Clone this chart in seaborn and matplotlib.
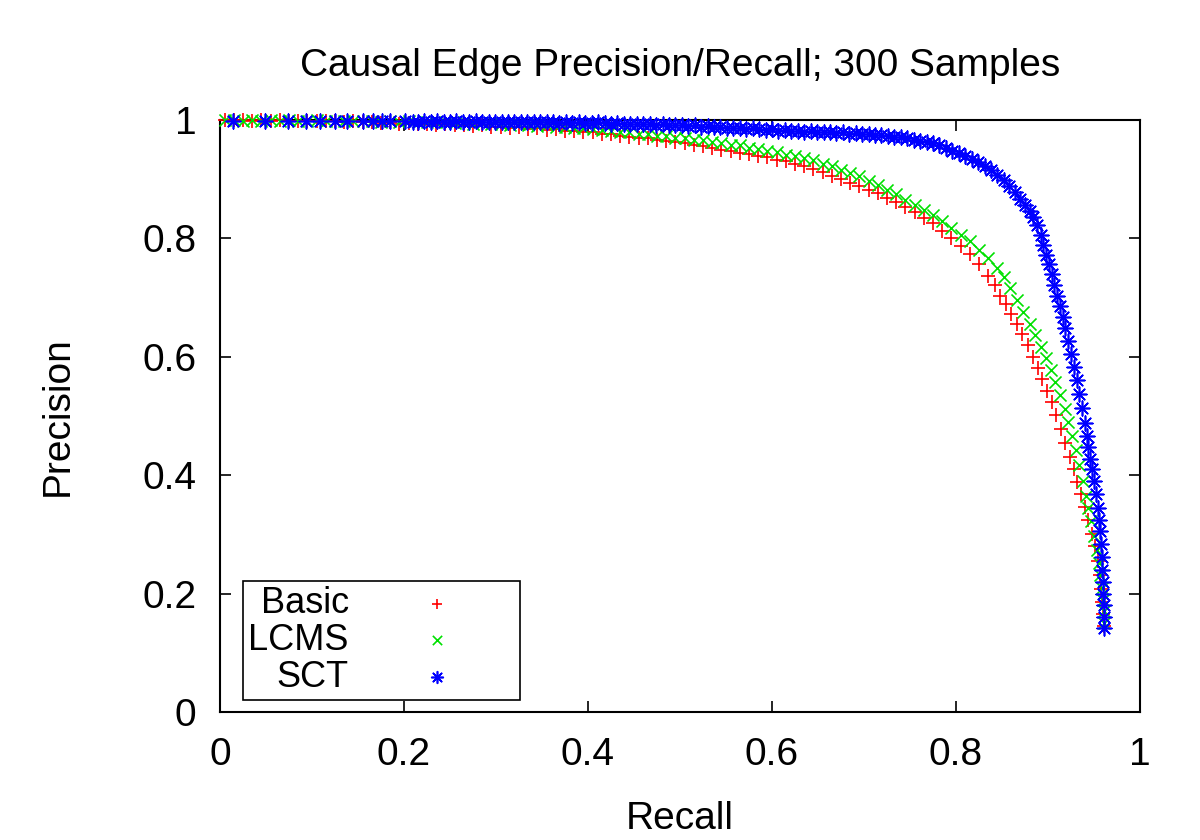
import matplotlib
matplotlib.use("Agg")
import matplotlib.pyplot as plt
import seaborn as sns
import pandas as pd

# ---------------- data ----------------
title = "Causal Edge Precision/Recall; 300 Samples"
x_label = "Recall"
y_label = "Precision"
series_names = ["Basic", "LCMS", "SCT"]
x_ticks = [0, 0.2, 0.4, 0.6, 0.8, 1]
y_ticks = [0, 0.2, 0.4, 0.6, 0.8, 1]

basic_recall = [0.005, 0.015, 0.025, 0.035, 0.045, 0.055, 0.065, 0.075, 0.085, 0.095,
                0.105, 0.115, 0.125, 0.135, 0.145, 0.155, 0.165, 0.175, 0.185, 0.195,
                0.205, 0.215, 0.225, 0.235, 0.245, 0.255, 0.265, 0.275, 0.285, 0.295,
                0.305, 0.315, 0.325, 0.335, 0.345, 0.355, 0.365, 0.375, 0.385, 0.395,
                0.405, 0.415, 0.425, 0.435, 0.445, 0.455, 0.465, 0.475, 0.485, 0.495,
                0.505, 0.515, 0.525, 0.535, 0.545, 0.555, 0.565, 0.575, 0.585, 0.595,
                0.605, 0.615, 0.625, 0.635, 0.645, 0.655, 0.665, 0.675, 0.685, 0.695,
                0.705, 0.715, 0.725, 0.735, 0.745, 0.755, 0.765, 0.775, 0.785, 0.795,
                0.805, 0.815, 0.825, 0.835, 0.842, 0.848, 0.854, 0.860, 0.866, 0.872,
                0.878, 0.884, 0.889, 0.894, 0.899, 0.904, 0.909, 0.914, 0.919, 0.924,
                0.928, 0.932, 0.936, 0.940, 0.944, 0.948, 0.951, 0.954, 0.956, 0.958,
                0.959, 0.960, 0.961]
basic_precision = [1.000, 1.000, 1.000, 0.999, 1.000, 0.999, 1.000, 0.999, 0.999, 0.998,
                   0.999, 0.998, 0.999, 0.997, 0.998, 0.996, 0.997, 0.995, 0.996, 0.994,
                   0.995, 0.993, 0.994, 0.992, 0.993, 0.991, 0.992, 0.990, 0.991, 0.989,
                   0.989, 0.987, 0.988, 0.985, 0.986, 0.983, 0.984, 0.981, 0.982, 0.979,
                   0.979, 0.976, 0.976, 0.973, 0.972, 0.970, 0.969, 0.966, 0.965, 0.962,
                   0.961, 0.957, 0.956, 0.952, 0.950, 0.948, 0.945, 0.943, 0.939, 0.937,
                   0.932, 0.931, 0.926, 0.922, 0.917, 0.912, 0.905, 0.900, 0.893, 0.889,
                   0.881, 0.876, 0.868, 0.862, 0.853, 0.845, 0.835, 0.826, 0.813, 0.800,
                   0.787, 0.773, 0.756, 0.737, 0.722, 0.703, 0.690, 0.673, 0.656, 0.638,
                   0.620, 0.600, 0.581, 0.562, 0.543, 0.523, 0.502, 0.478, 0.455, 0.431,
                   0.410, 0.388, 0.368, 0.346, 0.324, 0.300, 0.280, 0.255, 0.232, 0.208,
                   0.186, 0.165, 0.145]

lcms_recall = [0.005, 0.015, 0.025, 0.035, 0.045, 0.055, 0.065, 0.075, 0.085, 0.095,
               0.105, 0.115, 0.125, 0.135, 0.145, 0.155, 0.165, 0.175, 0.185, 0.195,
               0.205, 0.215, 0.225, 0.235, 0.245, 0.255, 0.265, 0.275, 0.285, 0.295,
               0.305, 0.315, 0.325, 0.335, 0.345, 0.355, 0.365, 0.375, 0.385, 0.395,
               0.405, 0.415, 0.425, 0.435, 0.445, 0.455, 0.465, 0.475, 0.485, 0.495,
               0.505, 0.515, 0.525, 0.535, 0.545, 0.555, 0.565, 0.575, 0.585, 0.595,
               0.605, 0.615, 0.625, 0.635, 0.645, 0.655, 0.665, 0.675, 0.685, 0.695,
               0.705, 0.715, 0.725, 0.735, 0.745, 0.755, 0.765, 0.775, 0.785, 0.795,
               0.805, 0.815, 0.825, 0.835, 0.845, 0.852, 0.859, 0.866, 0.873, 0.880,
               0.886, 0.892, 0.898, 0.903, 0.908, 0.913, 0.918, 0.922, 0.926, 0.930,
               0.934, 0.938, 0.941, 0.944, 0.947, 0.950, 0.953, 0.955, 0.957, 0.959,
               0.960, 0.961, 0.961]
lcms_precision = [1.000, 1.000, 0.999, 1.000, 0.999, 1.000, 0.999, 1.000, 0.999, 0.999,
                  1.000, 0.999, 0.998, 0.999, 0.998, 0.999, 0.998, 0.997, 0.998, 0.997,
                  0.998, 0.996, 0.997, 0.996, 0.997, 0.995, 0.996, 0.994, 0.995, 0.993,
                  0.994, 0.992, 0.993, 0.991, 0.990, 0.991, 0.988, 0.989, 0.986, 0.987,
                  0.984, 0.983, 0.982, 0.980, 0.979, 0.977, 0.976, 0.973, 0.973, 0.970,
                  0.969, 0.966, 0.966, 0.962, 0.961, 0.957, 0.957, 0.953, 0.951, 0.948,
                  0.946, 0.941, 0.940, 0.935, 0.932, 0.926, 0.922, 0.916, 0.911, 0.905,
                  0.897, 0.891, 0.882, 0.875, 0.865, 0.857, 0.848, 0.840, 0.829, 0.818,
                  0.805, 0.795, 0.781, 0.767, 0.750, 0.735, 0.716, 0.696, 0.675, 0.655,
                  0.636, 0.617, 0.598, 0.578, 0.557, 0.535, 0.511, 0.490, 0.467, 0.443,
                  0.418, 0.390, 0.365, 0.345, 0.322, 0.298, 0.274, 0.252, 0.231, 0.210,
                  0.190, 0.170, 0.150]

sct_recall = [0.014, 0.049, 0.074, 0.093, 0.109, 0.125, 0.138, 0.155, 0.166, 0.176,
              0.185, 0.201, 0.210, 0.215, 0.222, 0.229, 0.236, 0.243, 0.250, 0.257,
              0.264, 0.271, 0.278, 0.285, 0.292, 0.299, 0.306, 0.313, 0.320, 0.327,
              0.334, 0.341, 0.348, 0.355, 0.362, 0.369, 0.376, 0.383, 0.390, 0.397,
              0.404, 0.411, 0.418, 0.425, 0.432, 0.439, 0.446, 0.453, 0.460, 0.467,
              0.474, 0.481, 0.488, 0.495, 0.502, 0.509, 0.516, 0.523, 0.530, 0.537,
              0.544, 0.551, 0.558, 0.565, 0.572, 0.579, 0.586, 0.593, 0.600, 0.607,
              0.614, 0.621, 0.628, 0.635, 0.642, 0.649, 0.656, 0.663, 0.670, 0.677,
              0.684, 0.691, 0.698, 0.705, 0.712, 0.719, 0.726, 0.733, 0.740, 0.747,
              0.754, 0.761, 0.768, 0.775, 0.782, 0.789, 0.796, 0.803, 0.810, 0.817,
              0.824, 0.831, 0.838, 0.845, 0.852, 0.858, 0.864, 0.870, 0.875, 0.880,
              0.884, 0.888, 0.892, 0.895, 0.898, 0.901, 0.904, 0.907, 0.910, 0.913,
              0.916, 0.919, 0.922, 0.925, 0.928, 0.931, 0.934, 0.937, 0.940, 0.942,
              0.944, 0.946, 0.948, 0.950, 0.952, 0.954, 0.955, 0.957, 0.958, 0.959,
              0.959, 0.960, 0.960, 0.961, 0.961, 0.961]
sct_precision = [0.999, 0.999, 0.999, 0.999, 0.999, 0.999, 0.998, 0.998, 0.998, 0.998,
                 0.998, 0.998, 0.997, 0.997, 0.998, 0.997, 0.998, 0.997, 0.997, 0.998,
                 0.997, 0.997, 0.998, 0.997, 0.997, 0.996, 0.997, 0.997, 0.996, 0.997,
                 0.996, 0.996, 0.997, 0.996, 0.996, 0.995, 0.996, 0.995, 0.996, 0.995,
                 0.995, 0.996, 0.995, 0.994, 0.995, 0.994, 0.994, 0.993, 0.994, 0.993,
                 0.992, 0.993, 0.992, 0.991, 0.992, 0.990, 0.991, 0.989, 0.990, 0.988,
                 0.988, 0.987, 0.986, 0.987, 0.985, 0.986, 0.984, 0.983, 0.984, 0.982,
                 0.983, 0.981, 0.982, 0.980, 0.981, 0.979, 0.980, 0.979, 0.978, 0.979,
                 0.977, 0.978, 0.976, 0.977, 0.975, 0.975, 0.973, 0.972, 0.971, 0.969,
                 0.967, 0.965, 0.963, 0.961, 0.957, 0.953, 0.948, 0.944, 0.939, 0.934,
                 0.929, 0.922, 0.915, 0.907, 0.898, 0.889, 0.878, 0.866, 0.856, 0.846,
                 0.836, 0.822, 0.805, 0.789, 0.772, 0.756, 0.740, 0.722, 0.703, 0.686,
                 0.667, 0.648, 0.626, 0.604, 0.582, 0.561, 0.538, 0.514, 0.488, 0.466,
                 0.447, 0.428, 0.410, 0.390, 0.368, 0.345, 0.325, 0.305, 0.284, 0.262,
                 0.240, 0.220, 0.200, 0.180, 0.160, 0.142]

# ---------------- styling ----------------
sns.set_style("ticks")
plt.rcParams["font.family"] = ["Liberation Sans", "DejaVu Sans"]
plt.rcParams["xtick.direction"] = "in"
plt.rcParams["ytick.direction"] = "in"
plt.rcParams["text.color"] = "black"
plt.rcParams["axes.labelcolor"] = "black"
plt.rcParams["xtick.color"] = "black"
plt.rcParams["ytick.color"] = "black"

colors = ["#ff0000", "#00e000", "#0000ff"]
markers = ["+", "x", (8, 2, 0)]
sizes = [95, 75, 110]

fig = plt.figure(figsize=(12, 8.4), dpi=100)
ax = fig.add_axes([220 / 1200, 1 - 712 / 840, 920 / 1200, 592 / 840])

series = [(basic_recall, basic_precision), (lcms_recall, lcms_precision),
          (sct_recall, sct_precision)]
for name, (xs, ys), c, m, s in zip(series_names, series, colors, markers, sizes):
    df = pd.DataFrame({"Recall": xs, "Precision": ys})
    sns.scatterplot(data=df, x="Recall", y="Precision", ax=ax, marker=m, s=s,
                    color=c, linewidth=1.2, label=name, clip_on=False, zorder=3)

ax.set_xlim(0, 1)
ax.set_ylim(0, 1)
ax.set_xticks(x_ticks)
ax.set_yticks(y_ticks)
ax.set_xticklabels([f"{t:g}" for t in x_ticks])
ax.set_yticklabels([f"{t:g}" for t in y_ticks])
ax.tick_params(axis="both", which="both", direction="in", length=8, width=1.2,
               top=True, right=True, labelsize=28, color="black", labelcolor="black")
ax.tick_params(axis="x", pad=18)
ax.tick_params(axis="y", pad=17)
for sp in ax.spines.values():
    sp.set_visible(True)
    sp.set_linewidth(1.5)
    sp.set_color("black")

ax.set_xlabel(x_label, fontsize=28, labelpad=20)
ax.set_ylabel(y_label, fontsize=28, labelpad=48)
ax.set_title(title, fontsize=28, pad=32)

leg = ax.legend(loc="lower left", bbox_to_anchor=(0.025, 0.02), borderaxespad=0,
                markerfirst=False, fontsize=26, frameon=True, fancybox=False,
                edgecolor="black", framealpha=1, handlelength=4.3, handletextpad=0.3,
                labelspacing=0.05, borderpad=0.15, scatterpoints=1)
leg.get_frame().set_linewidth(1.2)
for h, s in zip(leg.legend_handles, [60, 45, 70]):
    h.set_sizes([s])

fig.savefig("out.png", dpi=100)
